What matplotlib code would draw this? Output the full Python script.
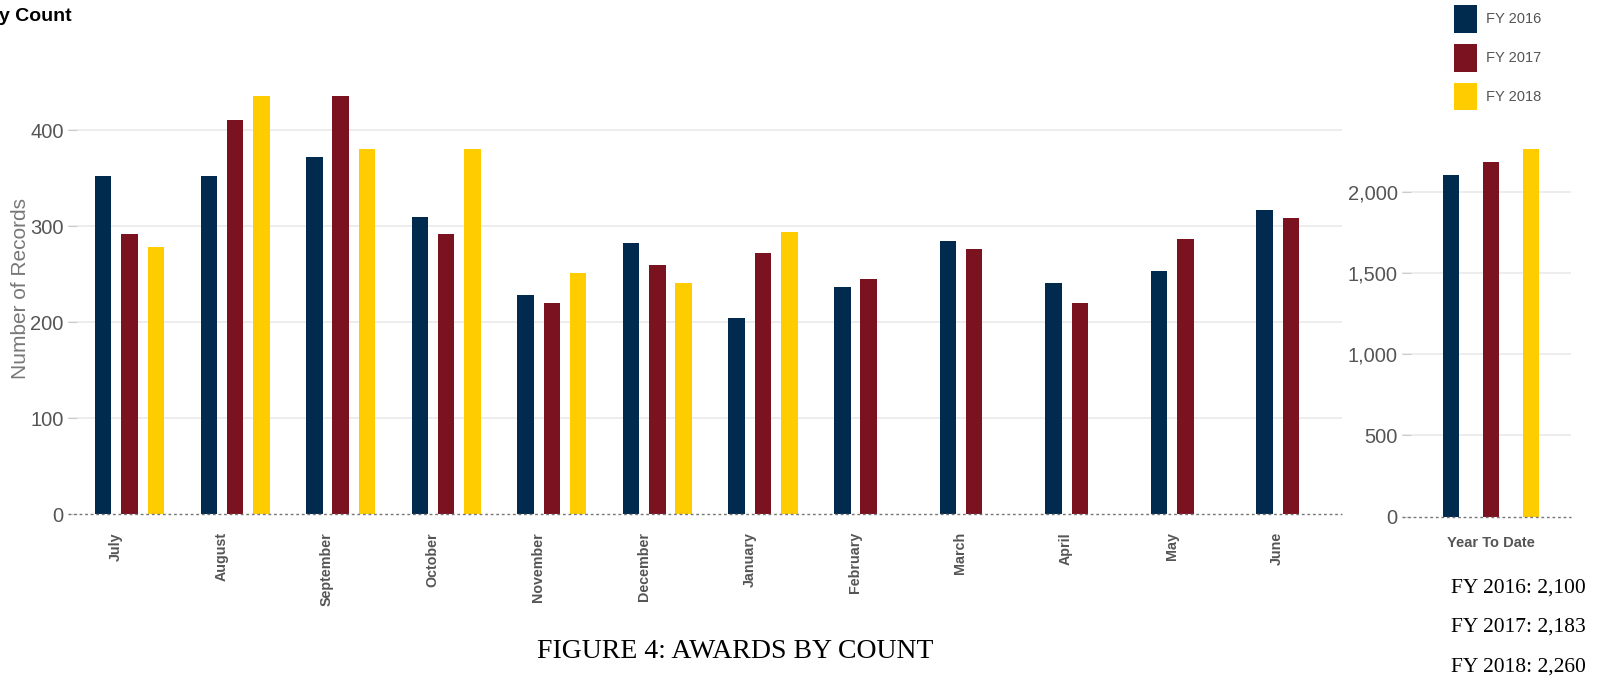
import numpy as np
import matplotlib.pyplot as plt
from matplotlib.ticker import FuncFormatter

# datos
meses = ['July', 'August', 'September', 'October', 'November', 'December',
         'January', 'February', 'March', 'April', 'May', 'June']
fy2016 = [352, 352, 372, 310, 228, 282, 204, 237, 285, 241, 253, 317]
fy2017 = [292, 411, 436, 292, 220, 260, 272, 245, 276, 220, 287, 308]
fy2018 = [278, 436, 380, 380, 251, 241, 294]  # solo hasta enero
series = ['FY 2016', 'FY 2017', 'FY 2018']
totales = [2100, 2183, 2260]

colores = ['#012A4F', '#7A131F', '#FFCC00']
gris = '#555555'
narrow = ['Liberation Sans Narrow', 'Liberation Sans', 'DejaVu Sans']
plt.rcParams['font.family'] = ['Liberation Sans', 'DejaVu Sans']

W, H = 1610, 682
fig = plt.figure(figsize=(W / 100, H / 100), dpi=100)

# panel mensual
ax = fig.add_axes([68 / W, (H - 514) / H, 1274 / W, 451 / H])
x = np.arange(len(meses))
paso, ancho = 0.249, 0.156
ax.bar(x - paso, fy2016, ancho, color=colores[0], label=series[0], zorder=3)
ax.bar(x, fy2017, ancho, color=colores[1], label=series[1], zorder=3)
ax.bar(x[:len(fy2018)] + paso, fy2018, ancho, color=colores[2], label=series[2], zorder=3)
ax.set_xlim(-0.582, 11.483)
ax.set_ylim(0, 470)
ax.set_yticks([0, 100, 200, 300, 400])
ax.set_xticks(x - 0.13)
ax.set_xticklabels(meses, rotation=90, fontsize=10.3, fontweight='bold', color=gris, va='top')
ax.tick_params(axis='x', length=0, pad=13)
ax.set_ylabel('Number of Records', fontsize=15, color='#777777', labelpad=0)

# panel acumulado
ax2 = fig.add_axes([1402 / W, (H - 516.7) / H, 169 / W, 455 / H])
ax2.bar([-1, 0, 1], totales, 0.4, color=colores, zorder=3)
ax2.set_xlim(-2.225, 2.0)
ax2.set_ylim(0, 2800)
ax2.set_yticks([0, 500, 1000, 1500, 2000])
ax2.yaxis.set_major_formatter(FuncFormatter(lambda v, p: f'{int(v):,}'))
ax2.set_xticks([0])
ax2.set_xticklabels(['Year To Date'], fontsize=10.5, fontweight='bold', color=gris)
ax2.tick_params(axis='x', length=0, pad=14)

for a in (ax, ax2):
    for s in a.spines.values():
        s.set_visible(False)
    a.tick_params(axis='y', direction='in', length=6.5, color='#cccccc', pad=3,
                  labelsize=14.5, labelcolor=gris)
    for t in a.get_yticklabels():
        t.set_family(narrow)
    a.grid(axis='y', color='#ececec', lw=1.3, zorder=0)
    a.axhline(0, color='#777777', lw=1.0, ls=(0, (2, 2)), zorder=4, clip_on=False)
ax.get_ygridlines()[0].set_visible(False)
ax2.get_ygridlines()[0].set_visible(False)

# leyenda
fig.legend(loc='upper left', bbox_to_anchor=(1454 / W, 1 - 5 / H), frameon=False,
           handlelength=1.55, handleheight=2.54, labelspacing=0.77,
           handletextpad=0.65, borderpad=0, borderaxespad=0, labelcolor=gris,
           prop={'family': narrow, 'size': 10.5})

fig.text(-1 / W, 1 - 21 / H, 'y Count', fontsize=14, fontweight='bold',
         va='baseline', ha='left', family=narrow)

fig.text(735 / W, 1 - 651 / H, 'FIGURE 4: AWARDS BY COUNT', fontsize=20,
         family='Liberation Serif', ha='center', va='center')
for i, (s, t) in enumerate(zip(series, totales)):
    fig.text(1451 / W, 1 - (588 + 39.5 * i) / H, f'{s}: {t:,}', fontsize=15.5,
             family='Liberation Serif', ha='left', va='center')

fig.savefig('out.png', dpi=100)
